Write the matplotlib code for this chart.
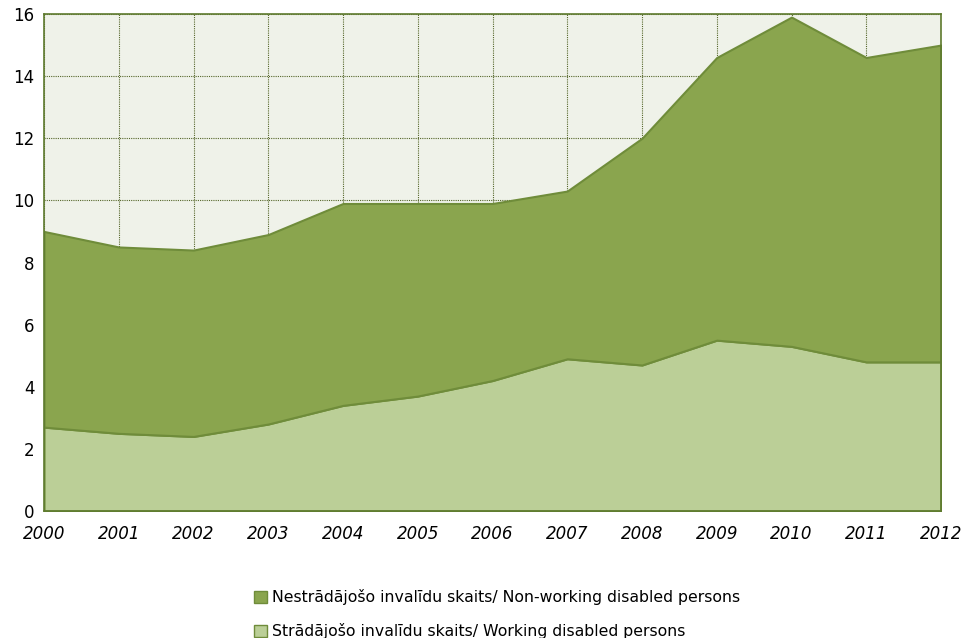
import numpy as np
from matplotlib import pyplot as plt
from matplotlib.patches import Patch

years = [2000, 2001, 2002, 2003, 2004, 2005, 2006, 2007, 2008, 2009, 2010, 2011, 2012]
working = [2.7, 2.5, 2.4, 2.8, 3.4, 3.7, 4.2, 4.9, 4.7, 5.5, 5.3, 4.8, 4.8]
total = [9.0, 8.5, 8.4, 8.9, 9.9, 9.9, 9.9, 10.3, 12.0, 14.6, 15.9, 14.6, 15.0]
non_working = [t - w for t, w in zip(total, working)]

label_nonworking = "Nestrādājošo invalīdu skaits/ Non-working disabled persons"
label_working = "Strādājošo invalīdu skaits/ Working disabled persons"

dark = "#8aa54e"
light = "#bbcf97"
edge = "#6f8c3a"

plt.rcParams['font.family'] = ['DejaVu Sans']

fig = plt.figure(figsize=(9.68, 6.38), dpi=100)
ax = fig.add_axes([44/968, 1-511/638, (941-44)/968, (511-14)/638])
ax.set_facecolor("#eff2e9")

ax.stackplot(years, working, non_working, colors=[light, dark],
             edgecolor=edge, linewidth=1.5, zorder=3)

ax.set_xlim(2000, 2012)
ax.set_ylim(0, 16)
ax.set_xticks(years)
ax.set_xticklabels([str(y) for y in years], fontstyle='italic', fontsize=12)
ax.set_yticks(range(0, 17, 2))
ax.tick_params(axis='y', labelsize=12, length=0, pad=7)
ax.tick_params(axis='x', length=0, pad=10)
ax.grid(True, color="#55662a", linestyle=(0, (1, 1)), linewidth=0.8, zorder=1)
ax.set_axisbelow(True)
for s in ax.spines.values():
    s.set_color("#5e7a2e")
    s.set_linewidth(1.2)
    s.set_zorder(4)

handles = [Patch(facecolor=dark, edgecolor=edge), Patch(facecolor=light, edgecolor=edge)]
fig.legend(handles, [label_nonworking, label_working], loc='center',
           bbox_to_anchor=(497/968, 1-614/638), frameon=False, fontsize=11.3,
           handlelength=0.8, handleheight=0.8, handletextpad=0.3, labelspacing=1.15)

fig.savefig("out.png", dpi=100)
